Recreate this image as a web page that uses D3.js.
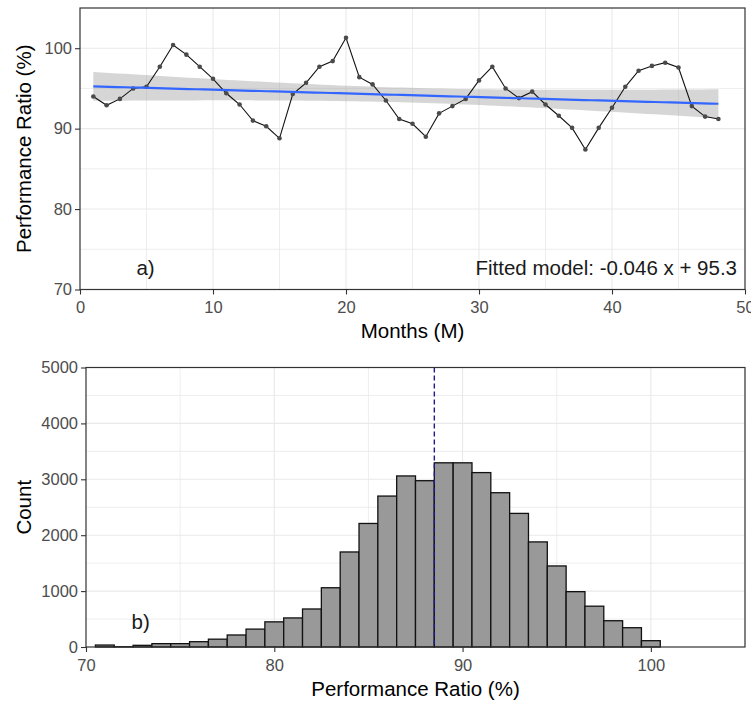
<!DOCTYPE html>
<html>
<head>
<meta charset="utf-8">
<script src="https://cdn.jsdelivr.net/npm/d3@7"></script>
<style>
  html, body { margin: 0; padding: 0; background: #fff; }
  svg { display: block; font-family: "Liberation Sans", Arial, sans-serif; }
</style>
</head>
<body>
<svg id="chart" width="751" height="705"></svg>
<script>
// ---------- Data ----------
const months = d3.range(1, 49);
const performanceRatio = [
  94.0, 92.9, 93.7, 95.0, 95.2, 97.7, 100.4, 99.2, 97.7, 96.2, 94.4, 93.0,
  91.0, 90.3, 88.8, 94.3, 95.7, 97.7, 98.4, 101.3, 96.4, 95.5, 93.5, 91.2,
  90.6, 89.0, 91.9, 92.8, 93.7, 96.0, 97.7, 95.0, 93.8, 94.6, 93.0, 91.6,
  90.1, 87.4, 90.1, 92.6, 95.2, 97.2, 97.8, 98.2, 97.6, 92.8, 91.5, 91.2
];
const fitSlope = -0.046;
const fitIntercept = 95.3;
const topXTicks = [0, 10, 20, 30, 40, 50];
const topYTicks = [70, 80, 90, 100];

const binCenters = d3.range(71, 101);
const binCounts = [
  35, 5, 30, 60, 60, 95, 140, 215, 320, 450, 520, 680, 1060, 1700, 2210,
  2700, 3060, 2975, 3295, 3295, 3120, 2760, 2390, 1880, 1450, 990, 730, 470, 345, 113
];
const binWidth = 1;
const meanRatio = 88.5;
const histXTicks = [70, 80, 90, 100];
const histYTicks = [0, 1000, 2000, 3000, 4000, 5000];

// ---------- Setup ----------
const svg = d3.select("#chart");
const tickFont = 16.5, titleFont = 20.5;
const tickColor = "#4d4d4d", axisColor = "#333333", gridColor = "#e9e9e9";

function panel(g, x, y, xMajor, xMinor, yMajor, yMinor) {
  const [x0, x1] = x.range();
  const [y0, y1] = y.range();
  // minor grid
  g.append("g").selectAll("line").data(xMinor).join("line")
    .attr("x1", d => x(d)).attr("x2", d => x(d)).attr("y1", y0).attr("y2", y1)
    .attr("stroke", gridColor).attr("stroke-width", 0.8);
  g.append("g").selectAll("line").data(yMinor).join("line")
    .attr("y1", d => y(d)).attr("y2", d => y(d)).attr("x1", x0).attr("x2", x1)
    .attr("stroke", gridColor).attr("stroke-width", 0.8);
  // major grid
  g.append("g").selectAll("line").data(xMajor).join("line")
    .attr("x1", d => x(d)).attr("x2", d => x(d)).attr("y1", y0).attr("y2", y1)
    .attr("stroke", gridColor).attr("stroke-width", 1.1);
  g.append("g").selectAll("line").data(yMajor).join("line")
    .attr("y1", d => y(d)).attr("y2", d => y(d)).attr("x1", x0).attr("x2", x1)
    .attr("stroke", gridColor).attr("stroke-width", 1.1);
}

function axes(g, x, y, xTicks, yTicks) {
  const [x0, x1] = x.range();
  const [y0, y1] = y.range();
  const xa = g.append("g").attr("transform", `translate(0,${y0})`)
    .call(d3.axisBottom(x).tickValues(xTicks).tickSize(5).tickPadding(7).tickFormat(d3.format("d")));
  const ya = g.append("g").attr("transform", `translate(${x0},0)`)
    .call(d3.axisLeft(y).tickValues(yTicks).tickSize(5).tickPadding(3).tickFormat(d3.format("d")));
  [xa, ya].forEach(a => {
    a.select(".domain").remove();
    a.selectAll(".tick line").attr("stroke", axisColor).attr("stroke-width", 1.1);
    a.selectAll(".tick text").attr("fill", tickColor).attr("font-size", tickFont)
      .attr("font-family", "Liberation Sans, Arial, sans-serif");
  });
  // panel border
  g.append("rect").attr("x", x0).attr("y", y1).attr("width", x1 - x0).attr("height", y0 - y1)
    .attr("fill", "none").attr("stroke", axisColor).attr("stroke-width", 1.2);
}

// ---------- Panel a ----------
const xA = d3.scaleLinear().domain([0, 50]).range([80, 745]);
const yA = d3.scaleLinear().domain([70, 105]).range([289.5, 8]);
const gA = svg.append("g");
panel(gA, xA, yA, [10, 20, 30, 40], [5, 15, 25, 35, 45], [80, 90, 100], [75, 85, 95]);

// confidence band (lm, 95%)
const n = months.length;
const xbar = d3.mean(months);
const sxx = d3.sum(months, m => (m - xbar) ** 2);
const resid = months.map((m, i) => performanceRatio[i] - (fitIntercept + fitSlope * m));
const s = Math.sqrt(d3.sum(resid, r => r * r) / (n - 2));
const tq = 2.013;
const evalX = d3.range(0, 80).map(i => 1 + i * (47 / 79));
const band = evalX.map(m => {
  const fit = fitIntercept + fitSlope * m;
  const se = s * Math.sqrt(1 / n + (m - xbar) ** 2 / sxx);
  return { m, fit, lo: fit - tq * se, hi: fit + tq * se };
});
gA.append("path").datum(band)
  .attr("d", d3.area().x(d => xA(d.m)).y0(d => yA(d.lo)).y1(d => yA(d.hi)))
  .attr("fill", "#999999").attr("fill-opacity", 0.4);

// data line and points
const series = months.map((m, i) => ({ m, v: performanceRatio[i] }));
gA.append("path").datum(series)
  .attr("d", d3.line().x(d => xA(d.m)).y(d => yA(d.v)))
  .attr("fill", "none").attr("stroke", "#111").attr("stroke-width", 1.1);
gA.append("g").selectAll("circle").data(series).join("circle")
  .attr("cx", d => xA(d.m)).attr("cy", d => yA(d.v)).attr("r", 2.3)
  .attr("fill", "#4a4a4a");

// fitted line
gA.append("path").datum(band)
  .attr("d", d3.line().x(d => xA(d.m)).y(d => yA(d.fit)))
  .attr("fill", "none").attr("stroke", "#3366FF").attr("stroke-width", 2.2);

axes(gA, xA, yA, topXTicks, topYTicks);

gA.append("text").attr("x", xA(4.93)).attr("y", yA(72.7)).attr("dy", "0.35em")
  .attr("text-anchor", "middle").attr("font-size", titleFont).attr("fill", "#1a1a1a").text("a)");
gA.append("text").attr("x", xA(49.4)).attr("y", yA(72.7)).attr("dy", "0.35em")
  .attr("text-anchor", "end").attr("font-size", titleFont).attr("fill", "#1a1a1a")
  .text(`Fitted model: ${fitSlope} x + ${fitIntercept}`);

gA.append("text").attr("x", (80 + 745) / 2).attr("y", 289.5 + 48.5)
  .attr("text-anchor", "middle").attr("font-size", titleFont).attr("fill", "#000").text("Months (M)");
gA.append("text").attr("transform", `translate(30.5,${(8 + 289.5) / 2}) rotate(-90)`)
  .attr("text-anchor", "middle").attr("font-size", titleFont).attr("fill", "#000").text("Performance Ratio (%)");

// ---------- Panel b ----------
const xB = d3.scaleLinear().domain([70, 105]).range([86, 745]);
const yB = d3.scaleLinear().domain([0, 5000]).range([647, 367.5]);
const gB = svg.append("g");
panel(gB, xB, yB, [80, 90, 100], [75, 85, 95, 105], [1000, 2000, 3000, 4000], [500, 1500, 2500, 3500, 4500]);

const bins = binCenters.map((c, i) => ({ c, n: binCounts[i] }));
gB.append("g").selectAll("rect").data(bins).join("rect")
  .attr("x", d => xB(d.c - binWidth / 2))
  .attr("width", d => xB(d.c + binWidth / 2) - xB(d.c - binWidth / 2))
  .attr("y", d => yB(d.n))
  .attr("height", d => yB(0) - yB(d.n))
  .attr("fill", "#999999").attr("stroke", "#111").attr("stroke-width", 1.3);

gB.append("line").attr("x1", xB(meanRatio)).attr("x2", xB(meanRatio))
  .attr("y1", yB(5000)).attr("y2", yB(0))
  .attr("stroke", "#1c1c8c").attr("stroke-width", 1.4).attr("stroke-dasharray", "5,3");

axes(gB, xB, yB, histXTicks, histYTicks);

gB.append("text").attr("x", xB(72.9)).attr("y", yB(452)).attr("dy", "0.35em")
  .attr("text-anchor", "middle").attr("font-size", titleFont).attr("fill", "#1a1a1a").text("b)");

gB.append("text").attr("x", (86 + 745) / 2).attr("y", 647 + 49)
  .attr("text-anchor", "middle").attr("font-size", titleFont).attr("fill", "#000").text("Performance Ratio (%)");
gB.append("text").attr("transform", `translate(30.5,${(367.5 + 647) / 2}) rotate(-90)`)
  .attr("text-anchor", "middle").attr("font-size", titleFont).attr("fill", "#000").text("Count");
</script>
</body>
</html>
